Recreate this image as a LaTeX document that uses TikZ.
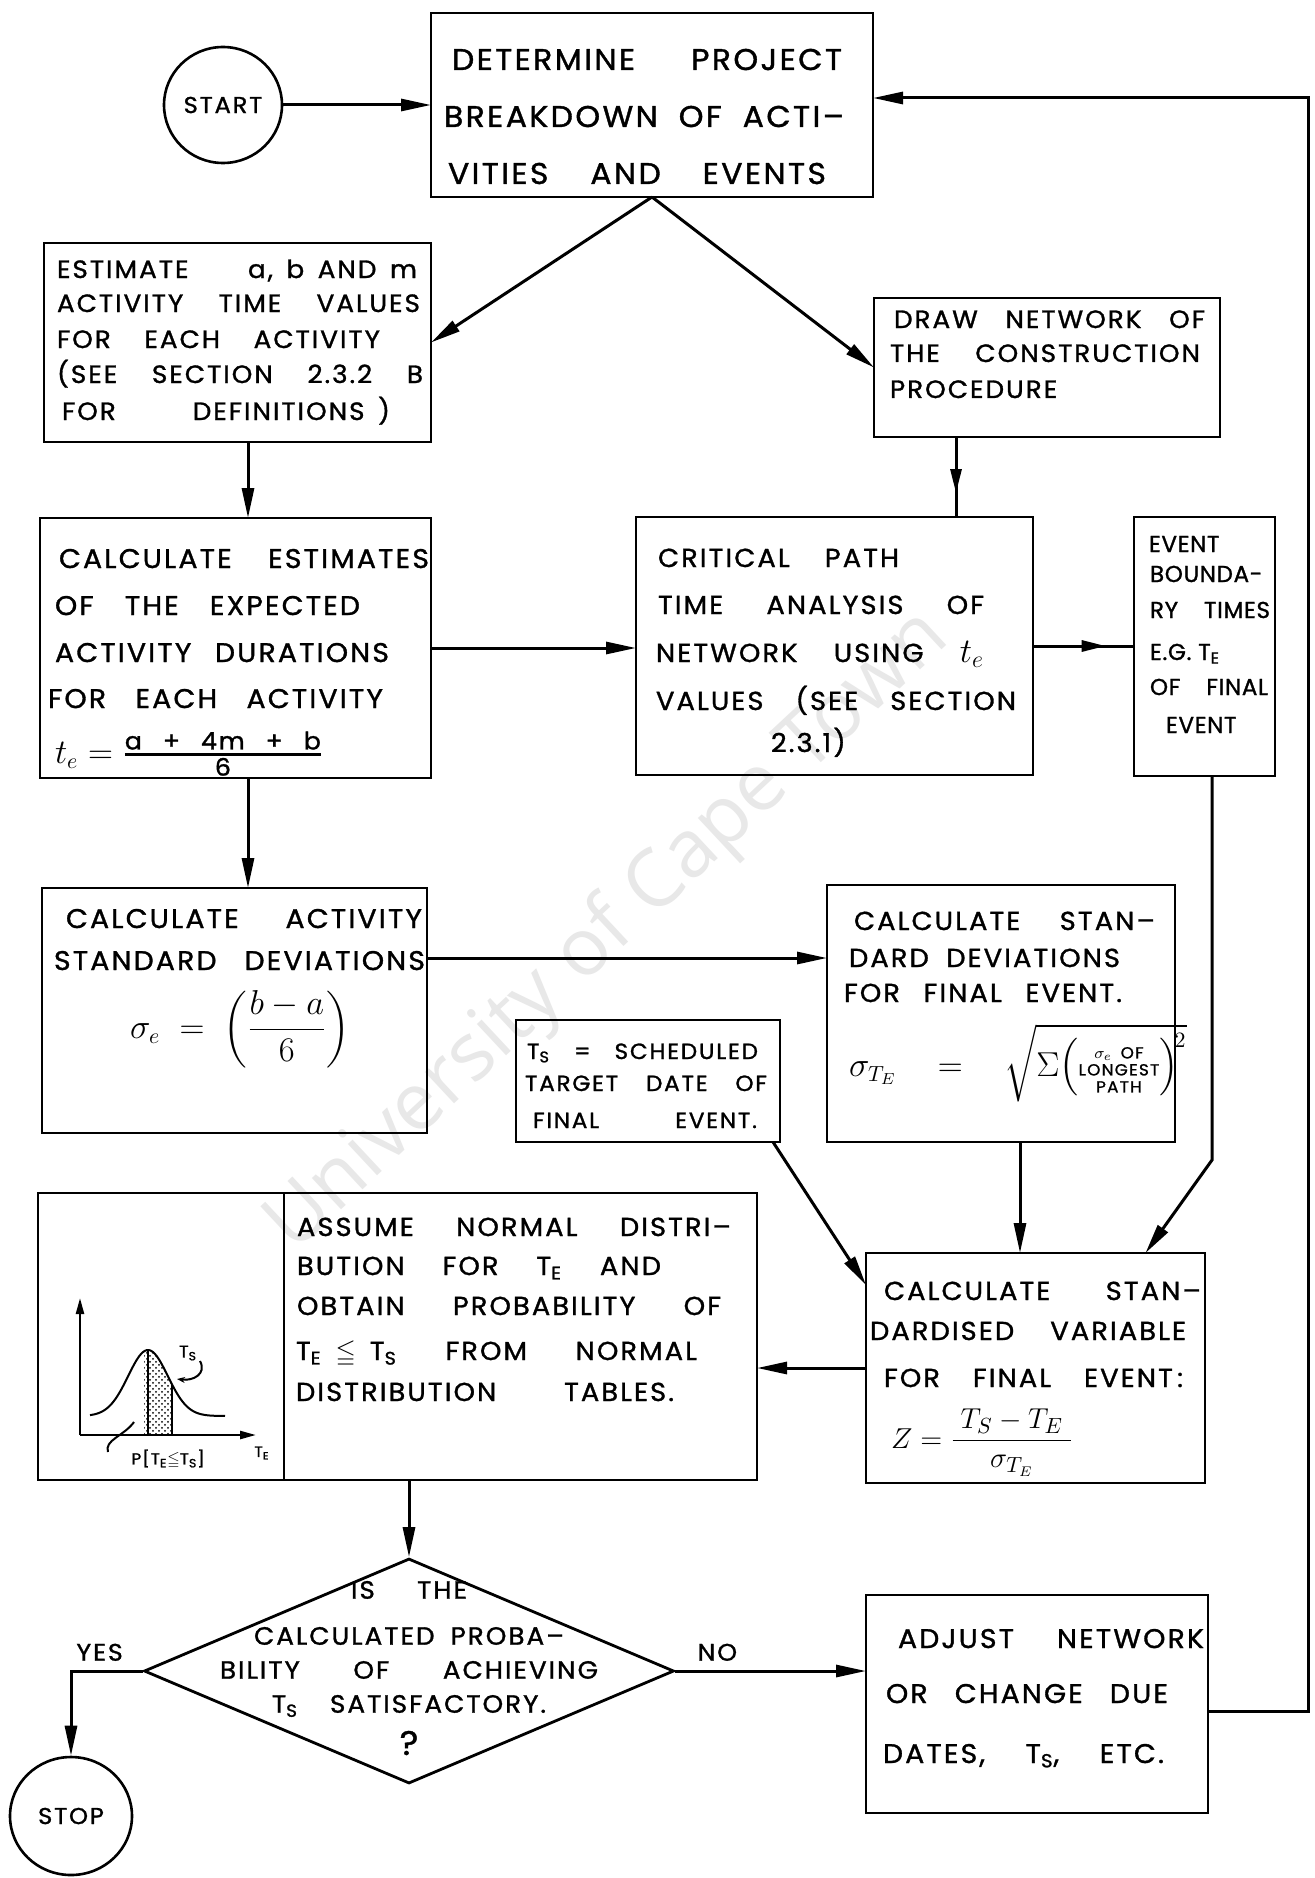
\documentclass[tikz,border=0pt]{standalone}
\usepackage{amsmath,amssymb}
\usepackage{fontspec}
\setmainfont{Poppins}[LetterSpace=8,WordSpace=1.5,FakeStretch=1.05,FakeBold=1.2]
\newfontfamily\evfont{Poppins}[FakeStretch=1.0,LetterSpace=3,FakeBold=1.2]
\newfontfamily\wmfont{Open Sans}
\usetikzlibrary{arrows.meta,shapes.geometric,fit,decorations.markings,patterns}
% text block of a box: width, height (pt), lines placed by explicit baseline gaps;
% the block hangs below its baseline
\newlength\bw
\newcommand\boxtext[3]{\lower#2pt\vbox to #2pt{\bw=#1pt\baselineskip=0pt\lineskip=0pt\lineskiplimit=0pt\relax#3\vfill}}
\newcommand\vgap[1]{\vskip #1pt}
% justified line: left margin, width, words separated by \hfill
\newcommand\tl[3]{\hbox to \bw{\hskip #1pt\smash{\hbox to #2pt{#3}}\hss}}
% natural line: left margin, content
\newcommand\tn[2]{\hbox to \bw{\hskip #1pt\smash{#2}\hss}}
\newcommand\Tsb[1]{T\textsubscript{#1}}
\newcommand\bellfn[1]{1416-66*exp(-(((#1-148)/28)^2))}
\begin{document}
\begin{tikzpicture}[x=0.5pt,y=-0.5pt,
  box/.style={draw,line width=1.4pt,inner sep=0pt,outer sep=0pt},
  arr/.style={line width=1.5pt,-{Triangle[length=15pt,width=6pt]}},
  midarr/.style={line width=1.5pt,postaction={decorate},
    decoration={markings,mark=at position #1 with {\arrow{Triangle[length=12pt,width=5.5pt]}}}},
  terminal/.style={draw,ellipse,line width=1.3pt,inner sep=0pt,font=\fontsize{11.5}{13}\selectfont},
  decision/.style={draw,diamond,line width=1.4pt,inner sep=0pt,minimum width=265pt,
    minimum height=112.5pt,font=\fontsize{12.5}{17}\selectfont},
  graphline/.style={line width=1pt},
  fs/.style 2 args={font=\fontsize{#1}{#2}\selectfont},
  wmword/.style={rotate=43,anchor=base west,inner sep=0pt,text=black!9,
    font=\wmfont\fontsize{40}{48}\selectfont},
]
\fill[white] (0,0) rectangle (1314,1878);
\useasboundingbox (0,0) rectangle (1314,1878);

% watermark, one word after the other along a common baseline
\node[wmword] (wm1) at (294,1254) {University};
\node[wmword] (wm2) at (wm1.base east) {\hspace{0.26em}of};
\node[wmword] (wm3) at (wm2.base east) {\hspace{0.26em}Cape};
\node[wmword] (wm4) at (wm3.base east) {\hspace{0.26em}Town};

% terminals
\node[terminal,minimum width=59pt,minimum height=58pt] (start) at (223,105) {START};
\node[terminal,minimum width=61pt,minimum height=59pt] (stop) at (71,1816) {STOP};

% process boxes
\node[box,fit={(431,13) (873,197)},fs={15}{18}] (det)
 {\boxtext{221}{92}{\vgap{28.5}\tl{10.5}{195}{DETERMINE\hfill PROJECT}%
  \vgap{28.5}\tl{6.5}{200}{BREAKDOWN\hfill OF\hfill ACTI–}%
  \vgap{28.5}\tl{8.5}{189}{VITIES\hfill AND\hfill EVENTS}}};

\node[box,fit={(44,243) (431,442)},fs={12.5}{15}] (est)
 {\boxtext{193.5}{99.5}{\vgap{17.5}\tl{6.5}{180}{ESTIMATE\hfill a, b AND m}%
  \vgap{17}\tl{6.5}{181.5}{ACTIVITY\hfill TIME\hfill VALUES}%
  \vgap{18}\tl{6.5}{161.5}{FOR\hfill EACH\hfill ACTIVITY}%
  \vgap{17.5}\tl{6.5}{183}{(SEE\hfill SECTION\hfill 2.3.2\hfill B}%
  \vgap{18.5}\tl{9}{164}{FOR\hfill DEFINITIONS )}}};

\node[box,fit={(874,298) (1220,437)},fs={12.5}{15}] (net)
 {\boxtext{173}{69.5}{\vgap{15}\tl{10}{155.5}{DRAW\hfill NETWORK\hfill OF}%
  \vgap{17}\tl{8}{155}{THE\hfill CONSTRUCTION}%
  \vgap{18}\tn{8}{PROCEDURE}}};

\node[box,fit={(40,518) (431,778)},fs={13.5}{16}] (cest)
 {\boxtext{195.5}{130}{\vgap{25}\tl{9.5}{185}{CALCULATE\hfill ESTIMATES}%
  \vgap{23.5}\tl{7.5}{152.5}{OF\hfill THE\hfill EXPECTED}%
  \vgap{23.5}\tl{7.5}{167}{ACTIVITY\hfill DURATIONS}%
  \vgap{23}\tl{4}{167.5}{FOR\hfill EACH\hfill ACTIVITY}%
  \vgap{27.5}\tn{7.5}{\fontsize{16}{18}\selectfont$t_e = \genfrac{}{}{1.2pt}{1}{\mbox{\fontsize{12}{14}\selectfont\makebox[98pt]{a\hfill+\hfill 4m\hfill+\hfill b}}}{\mbox{\fontsize{12}{14}\selectfont 6}}$}}};

\node[box,fit={(636,517) (1033,775)},fs={13}{16}] (crit)
 {\boxtext{198.5}{129}{\vgap{25}\tl{11}{120.5}{CRITICAL\hfill PATH}%
  \vgap{23.5}\tl{11}{163}{TIME\hfill ANALYSIS\hfill OF}%
  \vgap{24}\tl{10}{164}{NETWORK\hfill USING\hfill {\fontsize{17}{18}\selectfont$t_e$}}%
  \vgap{24}\tl{10}{180}{VALUES\hfill (SEE\hfill SECTION}%
  \vgap{21}\tn{67.5}{2.3.1)}}};

\node[box,fit={(1134,517) (1275,776)},font=\evfont\fontsize{11.5}{14}\selectfont] (ev)
 {\boxtext{70.5}{129.5}{\vgap{17.5}\tn{7.5}{EVENT}%
  \vgap{15}\tn{8}{BOUNDA-}%
  \vgap{18}\tl{8}{60}{RY\hfill TIMES}%
  \vgap{21}\tn{8}{E.G.\ \Tsb{E}}%
  \vgap{17.5}\tl{8}{59}{OF\hfill FINAL}%
  \vgap{19}\tn{16}{EVENT}}};

\node[box,fit={(42,888) (427,1133)},fs={13.5}{16}] (cact)
 {\boxtext{192.5}{122.5}{\vgap{20}\tl{12}{178}{CALCULATE\hfill ACTIVITY}%
  \vgap{21}\tl{6}{185.5}{STANDARD\hfill DEVIATIONS}%
  \vgap{34}\tn{44}{\fontsize{16}{18}\selectfont$\sigma_e \;=\; \left(\dfrac{b-a}{6}\right)$}}};

\node[box,fit={(827,885) (1175,1142)},fs={13}{16}] (std)
 {\boxtext{174}{128.5}{\vgap{22.5}\tl{13.5}{150.5}{CALCULATE\hfill STAN–}%
  \vgap{18.5}\tl{11}{135.5}{DARD\hfill DEVIATIONS}%
  \vgap{17.5}\tl{8.5}{139}{FOR\hfill FINAL\hfill EVENT.}%
  \vgap{37}\tn{11}{\fontsize{16}{18}\selectfont$\sigma_{T_E} \quad=\quad \sqrt{\Sigma\!\left(\mbox{\fontsize{8}{8.5}\selectfont\begin{tabular}{@{}c@{}}$\sigma_e$ OF\\ LONGEST\\ PATH\end{tabular}}\right)^{\!2}}$}}};

\node[box,fit={(516,1020) (780,1142)},fs={11}{13}] (ts)
 {\boxtext{132}{61}{\vgap{19.5}\tl{5.5}{115.5}{\Tsb{S}\hfill=\hfill SCHEDULED}%
  \vgap{16}\tl{4.5}{121}{TARGET\hfill DATE\hfill OF}%
  \vgap{18.5}\tl{8.5}{112}{FINAL\hfill EVENT.}}};

\node[box,fit={(866,1253) (1205,1483)},fs={13}{16}] (stdz)
 {\boxtext{169.5}{115}{\vgap{23.5}\tl{9}{158.5}{CALCULATE\hfill STAN–}%
  \vgap{20}\tl{2}{158}{DARDISED\hfill VARIABLE}%
  \vgap{23.5}\tl{9}{149.5}{FOR\hfill FINAL\hfill EVENT\,:}%
  \vgap{30.5}\tn{12.5}{\fontsize{15}{17}\selectfont$Z = \dfrac{\;T_S - T_E\;}{\sigma_{T_E}}$}}};

\node[box,fit={(38,1193) (284,1480)}] (gp) {};
\node[box,fit={(284,1193) (757,1480)},fs={13}{16}] (asm)
 {\boxtext{236.5}{143.5}{\vgap{21.5}\tl{6.5}{217}{ASSUME\hfill NORMAL\hfill DISTRI–}%
  \vgap{19.5}\tl{6.5}{182}{BUTION\hfill FOR\hfill \Tsb{E}\hfill AND}%
  \vgap{20}\tl{6.5}{212}{OBTAIN\hfill PROBABILITY\hfill OF}%
  \vgap{22.5}\tl{6}{200.5}{\Tsb{E} $\leqq$ \Tsb{S}\hfill FROM\hfill NORMAL}%
  \vgap{20.5}\tl{6}{189}{DISTRIBUTION\hfill TABLES.}}};

\node[decision] (dec) at (409,1671)
 {\smash{\makebox[0pt]{\raisebox{-2.5pt}{\begin{tabular}{@{}c@{}}\hbox to 58pt{IS\hfill THE}\\[6pt]
  \hbox to 155pt{CALCULATED\hfill PROBA–}\\
  \hbox to 189pt{BILITY\hfill OF\hfill ACHIEVING}\\
  \hbox to 137pt{\Tsb{S}\hfill SATISFACTORY.}\\[4pt]
  {\fontsize{17}{17}\selectfont ?}\end{tabular}}}}};

\node[box,fit={(866,1595) (1208,1813)},fs={13.5}{16}] (adj)
 {\boxtext{171}{109}{\vgap{26.5}\tl{16}{153}{ADJUST\hfill NETWORK}%
  \vgap{27.5}\tl{10}{141}{OR\hfill CHANGE\hfill DUE}%
  \vgap{30}\tl{8.5}{140.5}{DATES,\hfill \Tsb{S},\hfill ETC.}}};

% small normal-distribution sketch
\draw[line width=1.2pt,-{Triangle[length=8pt,width=4pt]}] (80,1435) -- (80,1298);
\draw[line width=1.2pt,-{Triangle[length=8pt,width=4pt]}] (80,1435) -- (256,1435);
\fill[pattern=crosshatch dots] (144,1435) -- plot[domain=144:172,samples=15] (\x,{\bellfn{\x}}) -- (172,1435) -- cycle;
\draw[graphline] plot[domain=90:225,samples=80,smooth] (\x,{\bellfn{\x}});
\draw[graphline] (148,1350) -- (148,1435);
\draw[graphline] (172,1384) -- (172,1435);
\node[fs={8.5}{9}] (gts) at (188,1353) {\Tsb{S}};
\draw[graphline,-{Stealth[length=4pt,width=3pt]}] (200,1361) .. controls (207,1374) and (193,1381) .. (177,1379);
\node[fs={8}{9}] (gprob) at (168,1459) {P[\Tsb{E}$\leqq$\Tsb{S}]};
\draw[graphline] (108,1452) .. controls (104,1440) and (124,1436) .. (134,1422);
\node[fs={7.5}{8}] (gte) at (262,1453) {\Tsb{E}};

% connectors
\coordinate (lx) at (248,0);
\coordinate (nx) at (956,0);
\coordinate (cy) at (0,958);
\coordinate (sx) at (1020,0);
\coordinate (evk) at (1212,1160);
\coordinate (rt) at (1308,98);

\draw[arr] (start) -- (start -| det.west);
\draw[arr] (det.south) -- (est.east);
\draw[arr] (det.south) -- (net.west);
\draw[arr] (est.south -| lx) -- (cest.north -| lx);
\draw[midarr=0.7] (net.south -| nx) -- (crit.north -| nx);
\draw[arr] (cest.east) -- (cest.east -| crit.west);
\draw[midarr=0.72] (crit.east) -- (crit.east -| ev.west);
\draw[arr] (cest.south -| lx) -- (cact.north -| lx);
\draw[arr] (cact.east |- cy) -- (std.west |- cy);
\draw[arr] (std.south -| sx) -- (stdz.north -| sx);
\draw[arr] (ev.south -| evk) -- (evk) -- ([xshift=55pt]stdz.north);
\draw[arr] ([xshift=-3.5pt]ts.south east) -- ([yshift=-16pt]stdz.north west);
\draw[arr] (stdz.west) -- (stdz.west -| asm.east);
\draw[arr] (asm.south -| dec.north) -- (dec.north);
\draw[arr] (dec.west) -| node[pos=0.3,above=1pt,fs={12}{14}] (yes) {YES} (stop.north);
\draw[arr] (dec.east) -- node[pos=0.22,above=1pt,fs={12}{14}] (no) {NO} (dec.east -| adj.west);
\draw[arr] ([yshift=-3.5pt]adj.east) -| (rt) -- (rt -| det.east);
\end{tikzpicture}
\end{document}
